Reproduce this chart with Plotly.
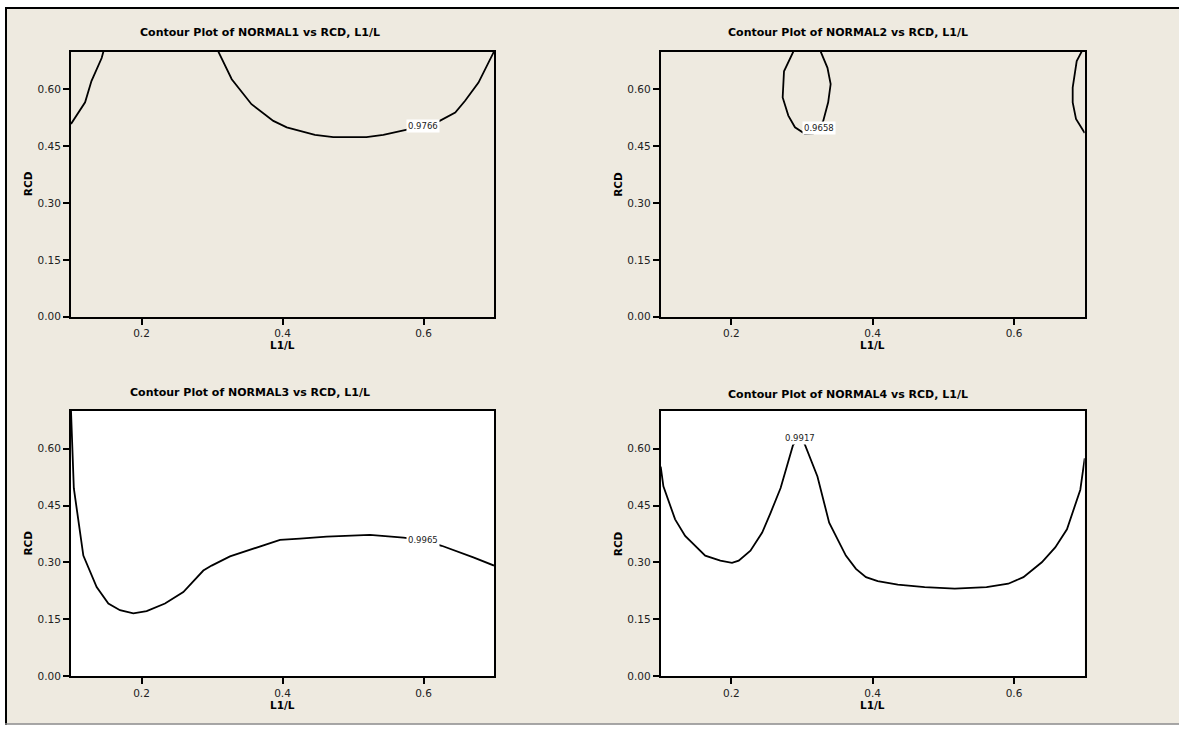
import plotly.graph_objects as go

W, H = 1179, 731

# ---------------- data ----------------
titles = ["Contour Plot of NORMAL1 vs RCD, L1/L",
          "Contour Plot of NORMAL2 vs RCD, L1/L",
          "Contour Plot of NORMAL3 vs RCD, L1/L",
          "Contour Plot of NORMAL4 vs RCD, L1/L"]
x_title = "L1/L"
y_title = "RCD"
x_ticks = [0.2, 0.4, 0.6]
x_tick_text = ["0.2", "0.4", "0.6"]
y_ticks = [0.00, 0.15, 0.30, 0.45, 0.60]
y_tick_text = ["0.00", "0.15", "0.30", "0.45", "0.60"]

# NORMAL1 contour (level 0.9766): two pieces
n1a_x = [0.100, 0.120, 0.129, 0.1435, 0.146]
n1a_y = [0.509, 0.566, 0.622, 0.683, 0.700]
n1b_x = [0.309, 0.328, 0.356, 0.387, 0.406, 0.425, 0.446, 0.472, 0.519, 0.543,
         0.578, 0.599, 0.623, 0.645, 0.659, 0.678, 0.700]
n1b_y = [0.700, 0.627, 0.561, 0.517, 0.500, 0.491, 0.480, 0.474, 0.474, 0.480,
         0.494, 0.503, 0.517, 0.539, 0.570, 0.618, 0.700]

# NORMAL2 contour (level 0.9658): loop + right edge piece
n2a_x = [0.2877, 0.2745, 0.2726, 0.2806, 0.290, 0.304, 0.316, 0.3245, 0.330,
         0.337, 0.3405, 0.336, 0.3264]
n2a_y = [0.700, 0.648, 0.579, 0.531, 0.500, 0.483, 0.484, 0.499, 0.517,
         0.566, 0.614, 0.657, 0.700]
n2b_x = [0.6957, 0.6887, 0.683, 0.683, 0.6877, 0.700]
n2b_y = [0.700, 0.675, 0.605, 0.566, 0.522, 0.485]

# NORMAL3 contour (level 0.9965)
n3_x = [0.100, 0.104, 0.1175, 0.1364, 0.153, 0.1695, 0.1884, 0.2073, 0.2333,
        0.2593, 0.2877, 0.2995, 0.3255, 0.3634, 0.3965, 0.4248, 0.4626, 0.524,
        0.5714, 0.5988, 0.6258, 0.6707, 0.700]
n3_y = [0.700, 0.496, 0.318, 0.235, 0.1916, 0.174, 0.1654, 0.1715, 0.1916,
        0.222, 0.2787, 0.2917, 0.316, 0.3396, 0.3596, 0.363, 0.368, 0.3727,
        0.3657, 0.3596, 0.344, 0.3135, 0.2917]

# NORMAL4 contour (level 0.9917)
n4_x = [0.100, 0.1038, 0.1204, 0.1346, 0.163, 0.1844, 0.2009, 0.2104, 0.227,
        0.2436, 0.2555, 0.2697, 0.2872, 0.2967, 0.3038, 0.3218, 0.3384, 0.362,
        0.3763, 0.3905, 0.4071, 0.4355, 0.4735, 0.5161, 0.5611, 0.5919, 0.6133,
        0.6393, 0.6583, 0.6749, 0.6938, 0.700]
n4_y = [0.553, 0.5007, 0.4137, 0.370, 0.318, 0.3048, 0.2987, 0.3048, 0.331,
        0.3788, 0.431, 0.4964, 0.6096, 0.630, 0.6122, 0.5269, 0.405, 0.318,
        0.283, 0.2613, 0.2508, 0.2412, 0.2351, 0.2308, 0.2351, 0.2438, 0.2613,
        0.3004, 0.3396, 0.3875, 0.492, 0.575]

contour_levels = ["0.9766", "0.9658", "0.9965", "0.9917"]
label_x = [0.599, 0.3245, 0.5988, 0.2967]
label_y = [0.503, 0.499, 0.3596, 0.6288]

# ---------------- layout helpers ----------------
def px_x(p):
    return p / W

def px_y(p):
    return 1 - p / H

BEIGE = "#EEEAE0"
FONT = "DejaVu Sans"

# plot areas in pixels: (left, right, top, bottom)
areas = [(71, 494, 52, 319.3),
         (660.7, 1084.7, 52, 319.3),
         (71, 494, 414.3, 681.7),
         (660.7, 1084.7, 414.3, 681.7)]

fig = go.Figure()

pieces = [
    (1, n1a_x, n1a_y), (1, n1b_x, n1b_y),
    (2, n2a_x, n2a_y), (2, n2b_x, n2b_y),
    (3, n3_x, n3_y),
    (4, n4_x, n4_y),
]
for k, xs, ys in pieces:
    sfx = "" if k == 1 else str(k)
    fig.add_trace(go.Scatter(x=xs, y=ys, mode="lines",
                             line=dict(color="black", width=1.8),
                             xaxis="x" + sfx, yaxis="y" + sfx,
                             showlegend=False, hoverinfo="skip",
                             cliponaxis=True))

layout = dict(width=W, height=H, margin=dict(l=0, r=0, t=0, b=0),
              paper_bgcolor="white", plot_bgcolor="rgba(0,0,0,0)",
              showlegend=False)

for i, (l, r, t, b) in enumerate(areas):
    sfx = "" if i == 0 else str(i + 1)
    layout["xaxis" + sfx] = dict(
        domain=[px_x(l), px_x(r)], range=[0.1, 0.7],
        anchor="y" + sfx, tickvals=x_ticks, ticktext=x_tick_text,
        showline=True, mirror=True, linecolor="black", linewidth=2,
        ticks="outside", ticklen=6, tickwidth=1.5, tickcolor="black",
        showgrid=False, zeroline=False,
        tickfont=dict(family=FONT, size=10.5, color="#222"))
    layout["yaxis" + sfx] = dict(
        domain=[px_y(b), px_y(t)], range=[0, 0.7],
        anchor="x" + sfx, tickvals=y_ticks, ticktext=y_tick_text,
        showline=True, mirror=True, linecolor="black", linewidth=2,
        ticks="outside", ticklen=6, tickwidth=1.5, tickcolor="black",
        showgrid=False, zeroline=False,
        tickfont=dict(family=FONT, size=10.5, color="#222"))

fig.update_layout(**layout)

shapes = []
# beige backdrop with border
shapes.append(dict(type="rect", xref="paper", yref="paper",
                   x0=px_x(6), x1=1, y0=px_y(729.5), y1=px_y(8),
                   fillcolor=BEIGE, line=dict(width=0), layer="below"))
shapes.append(dict(type="line", xref="paper", yref="paper",
                   x0=px_x(6), x1=px_x(6), y0=px_y(731), y1=px_y(7),
                   line=dict(color="black", width=2), layer="below"))
shapes.append(dict(type="line", xref="paper", yref="paper",
                   x0=px_x(5), x1=1, y0=px_y(8), y1=px_y(8),
                   line=dict(color="black", width=2), layer="below"))
shapes.append(dict(type="line", xref="paper", yref="paper",
                   x0=px_x(5), x1=1, y0=px_y(730), y1=px_y(730),
                   line=dict(color="#8a8a8a", width=1.5), layer="below"))
# white plot areas for the lower panels
for i in (2, 3):
    l, r, t, b = areas[i]
    shapes.append(dict(type="rect", xref="paper", yref="paper",
                       x0=px_x(l), x1=px_x(r), y0=px_y(b), y1=px_y(t),
                       fillcolor="white", line=dict(width=0), layer="below"))

annotations = []
title_pos = [(260, 33), (848, 33), (250, 396), (848, 398)]
for (tx, ty), txt in zip(title_pos, titles):
    annotations.append(dict(text="<b>%s</b>" % txt, xref="paper", yref="paper",
                            x=px_x(tx), y=px_y(ty), showarrow=False,
                            xanchor="center", yanchor="middle",
                            font=dict(family=FONT, size=11, color="black")))
for i, (l, r, t, b) in enumerate(areas):
    cx = (l + r) / 2
    annotations.append(dict(text="<b>%s</b>" % x_title, xref="paper", yref="paper",
                            x=px_x(cx), y=px_y(b + 29), showarrow=False,
                            xanchor="center", yanchor="middle",
                            font=dict(family=FONT, size=10.5, color="black")))
    annotations.append(dict(text="<b>%s</b>" % y_title, xref="paper", yref="paper",
                            x=px_x(l - 43), y=px_y((t + b) / 2), showarrow=False,
                            xanchor="center", yanchor="middle", textangle=-90,
                            font=dict(family=FONT, size=10.5, color="black")))
for i in range(4):
    sfx = "" if i == 0 else str(i + 1)
    annotations.append(dict(text=contour_levels[i], xref="x" + sfx, yref="y" + sfx,
                            x=label_x[i], y=label_y[i], showarrow=False,
                            xanchor="center", yanchor="middle",
                            bgcolor="white", borderpad=1,
                            font=dict(family=FONT, size=8.5, color="#222")))

fig.update_layout(shapes=shapes, annotations=annotations)
fig.write_html("out.html")
